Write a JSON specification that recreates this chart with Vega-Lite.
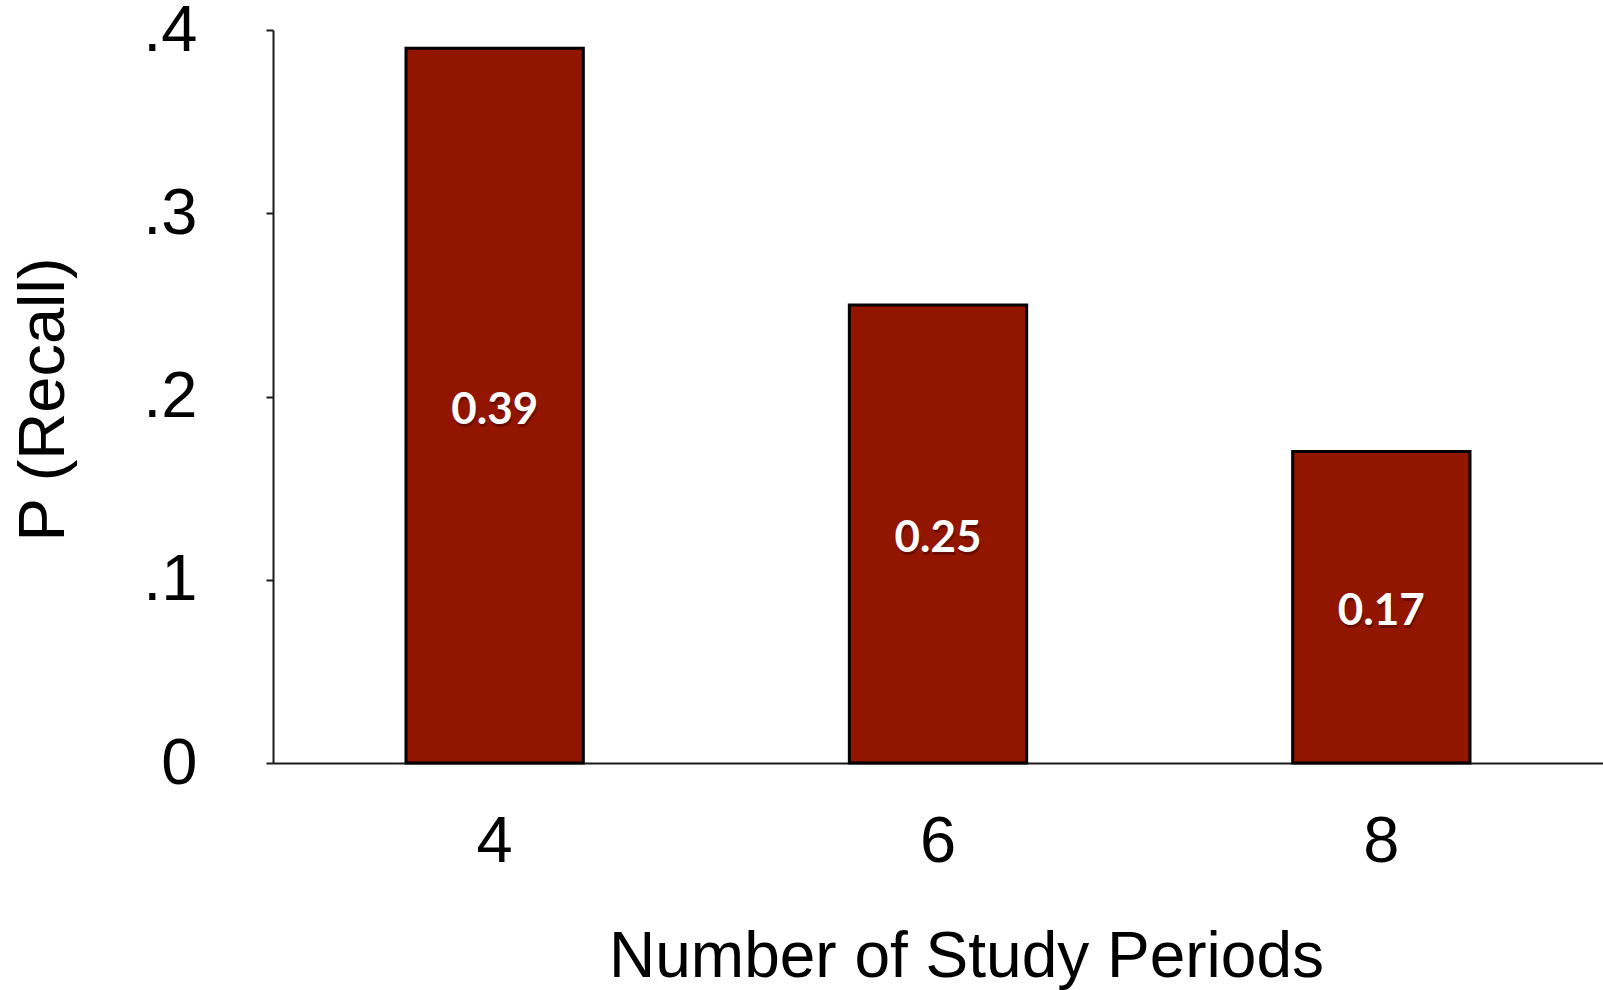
{
  "$schema": "https://vega.github.io/schema/vega-lite/v6.json",
  "autosize": {"type": "none"},
  "padding": {"left": 273, "top": 30, "right": 0, "bottom": 227},
  "width": 1330,
  "height": 733,
  "background": "white",
  "config": {"view": {"stroke": null}},
  "data": {
    "values": [
      {"periods": "4", "recall": 0.39},
      {"periods": "6", "recall": 0.25},
      {"periods": "8", "recall": 0.17}
    ]
  },
  "transform": [{"calculate": "datum.recall / 2", "as": "mid"}],
  "encoding": {
    "x": {
      "field": "periods",
      "type": "ordinal",
      "scale": {"paddingInner": 0.6, "paddingOuter": 0.3},
      "axis": {
        "title": "Number of Study Periods",
        "titleFont": "Liberation Sans",
        "titleFontSize": 64,
        "titleFontWeight": "normal",
        "titleColor": "black",
        "titleX": 693,
        "titleY": 213,
        "titleAlign": "center",
        "titleBaseline": "alphabetic",
        "labelFont": "Liberation Sans",
        "labelFontSize": 65,
        "labelColor": "black",
        "labelAngle": 0,
        "labelPadding": 47,
        "labelBaseline": "top",
        "ticks": false,
        "domainColor": "#1a1a1a",
        "domainWidth": 2,
        "grid": false
      }
    }
  },
  "layer": [
    {
      "mark": {"type": "bar", "fill": "#921500", "stroke": "black", "strokeWidth": 3},
      "encoding": {
        "y": {
          "field": "recall",
          "type": "quantitative",
          "scale": {"domain": [0, 0.4], "nice": false},
          "axis": {
            "title": "P (Recall)",
            "titleFont": "Liberation Sans",
            "titleFontSize": 65,
            "titleFontWeight": "normal",
            "titleColor": "black",
            "titleAngle": -90,
            "titleX": -210,
            "titleY": 369,
            "titleAlign": "center",
            "titleBaseline": "alphabetic",
            "values": [0, 0.1, 0.2, 0.3, 0.4],
            "labelExpr": "datum.value == 0 ? '0' : replace(format(datum.value, '.1f'), '0.', '.')",
            "labelFont": "Liberation Sans",
            "labelFontSize": 65,
            "labelColor": "black",
            "labelPadding": 69,
            "labelBaseline": "middle",
            "tickSize": 7,
            "tickWidth": 2,
            "tickColor": "#1a1a1a",
            "domainColor": "#1a1a1a",
            "domainWidth": 2,
            "grid": false
          }
        }
      }
    },
    {
      "mark": {"type": "text", "font": "Lato", "fontWeight": "bold", "fontSize": 44, "fill": "#3a0400", "opacity": 0.45, "dx": 1, "dy": 8, "baseline": "middle", "align": "center"},
      "encoding": {
        "y": {"field": "mid", "type": "quantitative"},
        "text": {"field": "recall", "type": "quantitative", "format": ".2f"}
      }
    },
    {
      "mark": {"type": "text", "font": "Lato", "fontWeight": "bold", "fontSize": 44, "fill": "white", "baseline": "middle", "align": "center", "dy": 5},
      "encoding": {
        "y": {"field": "mid", "type": "quantitative"},
        "text": {"field": "recall", "type": "quantitative", "format": ".2f"}
      }
    }
  ]
}
